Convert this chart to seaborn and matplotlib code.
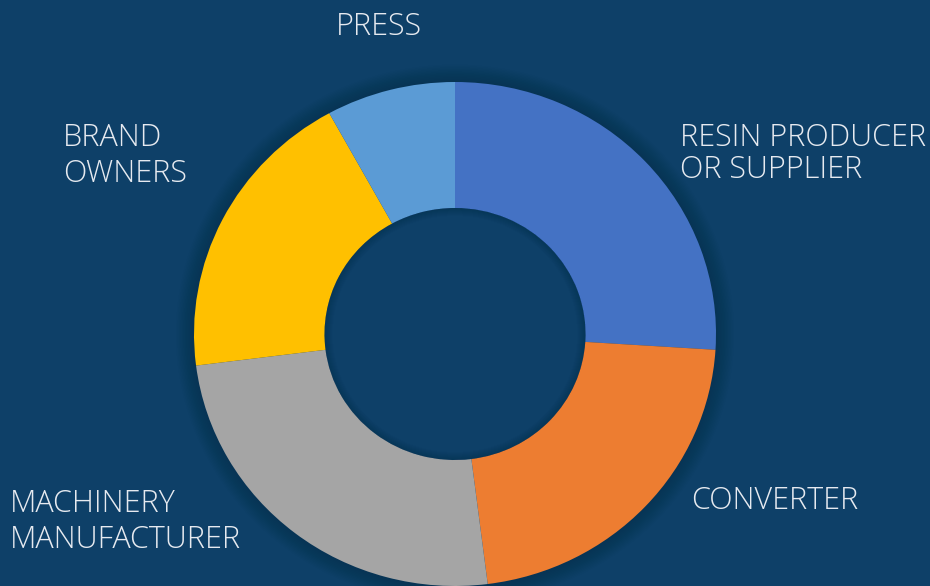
import matplotlib
matplotlib.use("Agg")
import matplotlib.pyplot as plt
import seaborn as sns
from matplotlib.patches import Wedge

# categories and shares (clockwise from 12 o'clock)
categories = ["RESIN PRODUCER\nOR SUPPLIER", "CONVERTER", "MACHINERY\nMANUFACTURER",
              "BRAND\nOWNERS", "PRESS"]
shares = [26, 22, 25, 19, 8]
colors = ["#4472C4", "#ED7D31", "#A5A5A5", "#FFC000", "#5B9BD5"]

bg = "#0E4068"
txt_col = "#E6EAF0"

sns.set_style("white")
plt.rcParams["font.family"] = ["Open Sans", "DejaVu Sans"]

fig = plt.figure(figsize=(9.3, 5.86), dpi=100)
fig.patch.set_facecolor(bg)
ax = fig.add_axes([0, 0, 1, 1])
ax.set_facecolor(bg)

# x in pixels, y stretched a bit so the donut is slightly wider than tall
yk = 261 / 252
ax.set_xlim(0, 930)
ax.set_ylim(0, 586 * yk)
cx, cy, r = 455, 252 * yk, 261

# soft shadow around the ring
for i in range(12):
    ax.add_patch(Wedge((cx, cy), r + 18 - i * 1.5, 0, 360, width=18 - i * 1.5 + 1,
                       facecolor="#07263f", edgecolor="none", alpha=0.035, zorder=1))

ax.pie(shares, colors=colors, startangle=90, counterclock=False,
       radius=r, center=(cx, cy), frame=True,
       wedgeprops=dict(width=r * 0.5, edgecolor="none", zorder=2))

# slight inner shadow in the hole
for i in range(8):
    ax.add_patch(Wedge((cx, cy), r * 0.5, 0, 360, width=8 - i,
                       facecolor="#07263f", edgecolor="none", alpha=0.04, zorder=3))

ax.set_xlim(0, 930)
ax.set_ylim(0, 586 * yk)
ax.set_aspect("auto")
ax.axis("off")

# label placement: (left x, first baseline y, line gap) in pixels from top
label_pos = [(680, 146, 32), (691, 509, 36), (10, 512, 36), (63, 146, 36), (336, 35, 36)]
for lab, (x, y, gap) in zip(categories, label_pos):
    for j, line in enumerate(lab.split("\n")):
        fig.text(x / 930, 1 - (y + j * gap) / 586, line, color=txt_col,
                 fontsize=22, fontweight="light", ha="left", va="baseline")

fig.savefig("out.png", dpi=100, facecolor=bg)
